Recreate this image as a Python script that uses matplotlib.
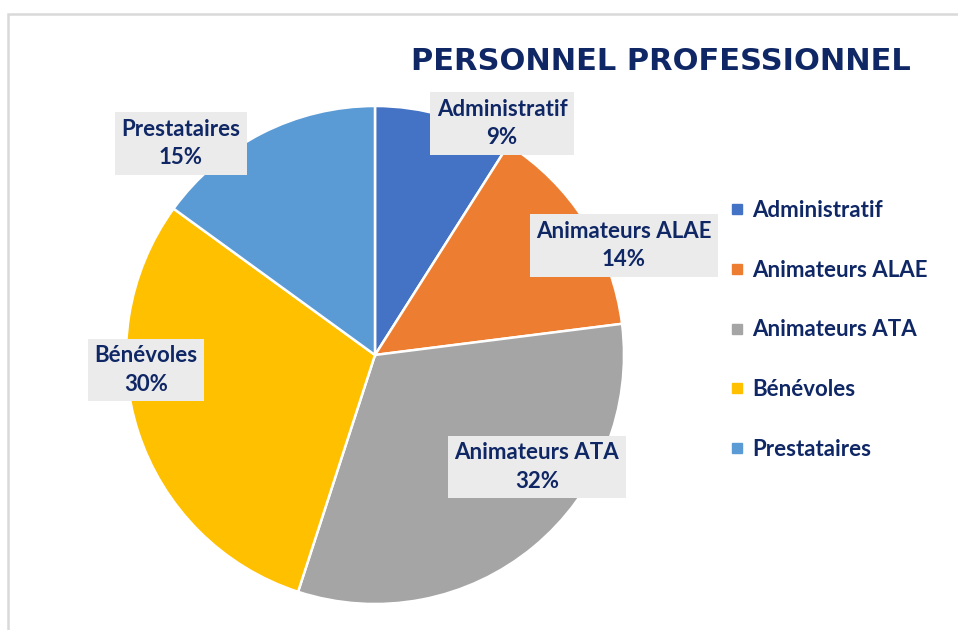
import matplotlib
matplotlib.use("Agg")
import matplotlib.pyplot as plt
from matplotlib.lines import Line2D
from matplotlib.patches import Rectangle

# Données
categories = ["Administratif", "Animateurs ALAE", "Animateurs ATA", "Bénévoles", "Prestataires"]
valeurs = [9, 14, 32, 30, 15]
couleurs = ["#4472c4", "#ed7d31", "#a5a5a5", "#ffc000", "#5b9bd5"]
titre = "PERSONNEL PROFESSIONNEL"

# position des étiquettes (coordonnées du camembert, rayon = 1)
pos_etiquettes = [(0.51, 0.93), (1.0, 0.44), (0.65, -0.45), (-0.92, -0.06), (-0.78, 0.85)]

bleu_texte = "#0f2765"
police = ["Lato", "DejaVu Sans"]

fig = plt.figure(figsize=(9.58, 6.30), dpi=100)

# cadre gris clair
cadre = Rectangle((8 / 958, -0.1), 1.2, 1 - 14 / 630 + 0.1, transform=fig.transFigure,
                  fill=False, edgecolor="#d9d9d9", linewidth=1.8)
fig.patches.append(cadre)

ax = fig.add_axes([126 / 958, 26 / 630, 498 / 958, 498 / 630])
ax.pie(valeurs, colors=couleurs, startangle=90, counterclock=False, radius=1,
       wedgeprops=dict(edgecolor="white", linewidth=1.8))
ax.set_xlim(-1, 1)
ax.set_ylim(-1, 1)
ax.set_aspect("equal")
ax.axis("off")

for cat, val, (x, y) in zip(categories, valeurs, pos_etiquettes):
    ax.text(x, y, f"{cat}\n{val}%", ha="center", va="center", fontsize=16,
            fontweight="bold", color=bleu_texte, family=police, linespacing=1.42,
            clip_on=False,
            bbox=dict(boxstyle="square,pad=0.3", facecolor="#ebebeb", edgecolor="none"))

fig.text(661 / 958, 1 - 62 / 630, titre, ha="center", va="center", fontsize=22,
         fontweight="bold", color=bleu_texte, family=["DejaVu Sans"])

poignees = [Line2D([], [], marker="s", linestyle="none", markersize=7,
                   markerfacecolor=c, markeredgecolor=c) for c in couleurs]
fig.legend(poignees, categories, loc="upper left", bbox_to_anchor=(720 / 958, 1 - 189 / 630),
           frameon=False, handlelength=0.5, handletextpad=0.45, labelspacing=1.74,
           borderpad=0, prop=dict(family=police, weight="bold", size=16), labelcolor=bleu_texte)

fig.savefig("out.png", dpi=100, facecolor="white")
